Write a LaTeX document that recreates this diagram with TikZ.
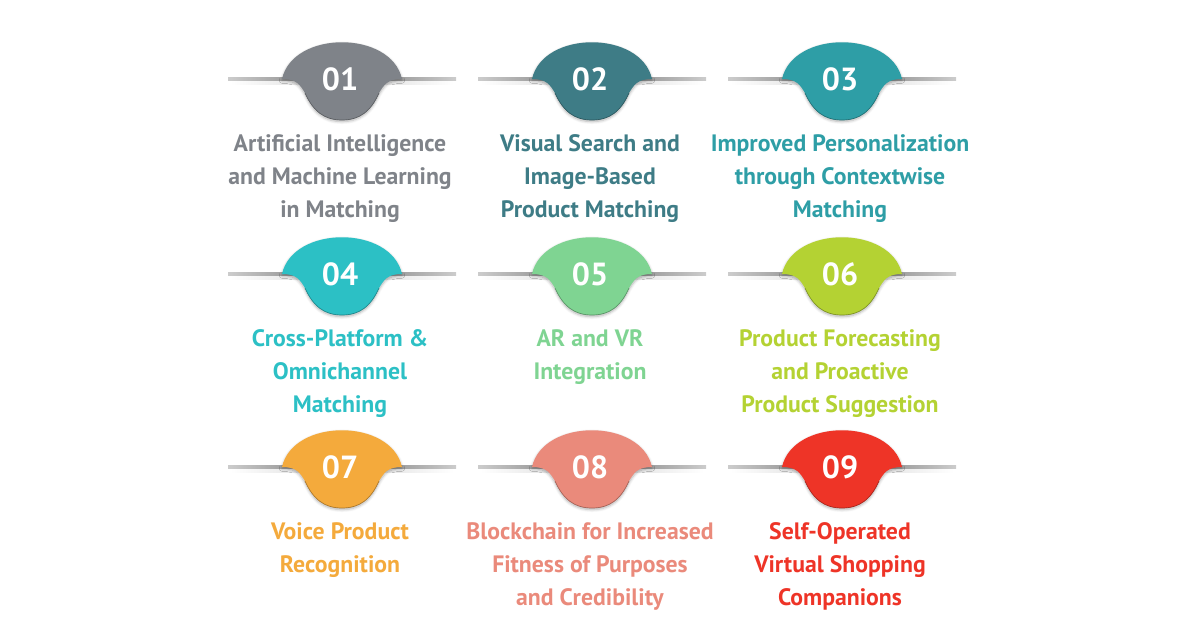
\documentclass[tikz,border=0pt]{standalone}
\usepackage{fontspec}
\setmainfont{PT Sans}
\usepackage{xcolor}
\usepackage{tikz}
\usetikzlibrary{positioning, shadows.blur}
\definecolor{slategraybox}{HTML}{7F8389}
\definecolor{darktealbox}{HTML}{3E7C86}
\definecolor{tealbox}{HTML}{2E9EA6}
\definecolor{cyanbox}{HTML}{2CC0C5}
\definecolor{mintbox}{HTML}{7FD492}
\definecolor{limebox}{HTML}{B4D233}
\definecolor{orangebox}{HTML}{F4AA3C}
\definecolor{salmonbox}{HTML}{EA8A7B}
\definecolor{redbox}{HTML}{EE3427}

\begin{document}
\begin{tikzpicture}[
    x=0.75pt, y=-0.75pt,
    num/.style={
        inner sep=0pt, text=white,
        font=\fontsize{24}{24}\selectfont\bfseries
    },
    caption/.style={
        inner sep=0pt, align=center, text=#1,
        font=\fontsize{17.8}{24.75}\selectfont\bfseries
    },
    pics/dome/.style={code={
        % grey rail with its shadow
        \shade[left color=white, right color=white, middle color=black!16]
            (-112,1.5) rectangle (112,5);
        \shade[left color=black!20, right color=black!20, middle color=black!55]
            (-114,-1.5) rectangle (114,1.5);
        % the badge
        \fill[#1, blur shadow={shadow xshift=0pt, shadow yshift=-1.2pt,
                shadow opacity=30, shadow blur steps=6}]
            (-60,0) .. controls (-49,-49) and (49,-49) .. (60,0)
            .. controls (45,0) and (42,6) .. (37,14)
            .. controls (29,32) and (18,41) .. (0,41)
            .. controls (-18,41) and (-29,32) .. (-37,14)
            .. controls (-42,6) and (-45,0) .. (-60,0) -- cycle;
        \draw[#1!70!black, line width=0.5pt]
            (37,14) .. controls (29,32) and (18,41) .. (0,41)
            .. controls (-18,41) and (-29,32) .. (-37,14);
    }}
]
\useasboundingbox (0,0) rectangle (1200,628);

\pic at (342,79) {dome=slategraybox};
\pic at (592,79) {dome=darktealbox};
\pic at (842,79) {dome=tealbox};
\pic at (342,274) {dome=cyanbox};
\pic at (592,274) {dome=mintbox};
\pic at (842,274) {dome=limebox};
\pic at (342,467) {dome=orangebox};
\pic at (592,467) {dome=salmonbox};
\pic at (842,467) {dome=redbox};

\node[num] (n1) at (340,79) {01};
\node[num] (n2) at (590,79) {02};
\node[num] (n3) at (840,79) {03};
\node[num] (n4) at (340,274) {04};
\node[num] (n5) at (590,274) {05};
\node[num] (n6) at (840,274) {06};
\node[num] (n7) at (340,467) {07};
\node[num] (n8) at (590,467) {08};
\node[num] (n9) at (840,467) {09};

\node[caption=slategraybox, below=32.5pt of n1] (t1)
    {Artificial Intelligence\\and Machine Learning\\in Matching};
\node[caption=darktealbox, below=32.5pt of n2] (t2)
    {Visual Search and\\Image-Based\\Product Matching};
\node[caption=tealbox, below=32.5pt of n3] (t3)
    {Improved Personalization\\through Contextwise\\Matching};
\node[caption=cyanbox, below=32.5pt of n4] (t4)
    {Cross-Platform \&\\Omnichannel\\Matching};
\node[caption=mintbox, below=32.5pt of n5] (t5)
    {AR and VR\\Integration};
\node[caption=limebox, below=32.5pt of n6] (t6)
    {Product Forecasting\\and Proactive\\Product Suggestion};
\node[caption=orangebox, below=32.5pt of n7] (t7)
    {Voice Product\\Recognition};
\node[caption=salmonbox, below=32.5pt of n8] (t8)
    {Blockchain for Increased\\Fitness of Purposes\\and Credibility};
\node[caption=redbox, below=32.5pt of n9] (t9)
    {Self-Operated\\Virtual Shopping\\Companions};

\end{tikzpicture}
\end{document}
